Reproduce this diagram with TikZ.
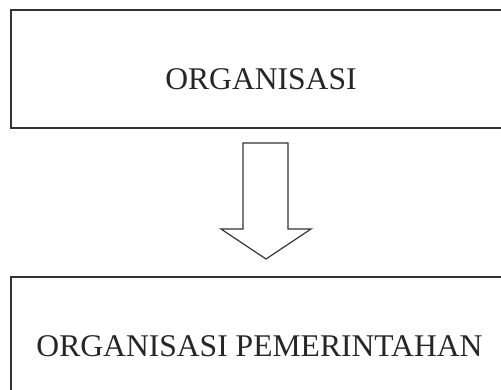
\documentclass[tikz,border=0pt]{standalone}
\usepackage{fontspec}
\setmainfont{Liberation Serif}
\begin{document}
\begin{tikzpicture}[x=1pt,y=1pt,
  frame/.style={draw=black!80, line width=1.4pt, rectangle, inner sep=0pt},
  caption/.style={anchor=base, inner sep=0pt, text=black!85,
    font=\fontsize{31.6}{38}\selectfont},
  blockarrow/.style={draw=black!80, line width=1.2pt, line join=miter, fill=white}]
  \useasboundingbox (0,0) rectangle (501,390);
  \begin{scope}
    \clip (0,0) rectangle (501,390);
    % upper box
    \node[frame, minimum width=494pt, minimum height=118pt] (top) at (258,321) {};
    % lower box
    \node[frame, minimum width=494pt, minimum height=130pt] (bottom) at (258,48) {};
  \end{scope}
  \node[caption] (toplabel) at (261,300) {ORGANISASI};
  \node[caption] (bottomlabel) at (259.5,33) {ORGANISASI PEMERINTAHAN};
  % downward block arrow
  \coordinate (tip) at (266,131);
  \draw[blockarrow] (243,247) -- (288,247) -- (288,161) -- (311,161)
    -- (tip) -- (221,161) -- (243,161) -- cycle;
\end{tikzpicture}
\end{document}
